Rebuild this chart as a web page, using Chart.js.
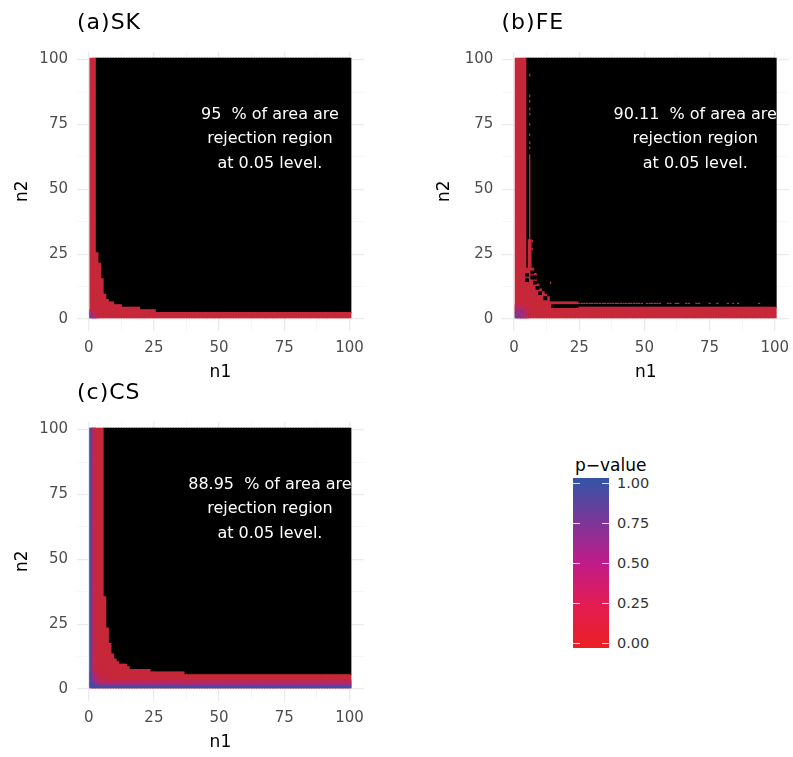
<!DOCTYPE html>
<html>
<head>
<meta charset="utf-8">
<title>Rejection regions by p-value</title>
<script src="https://cdn.jsdelivr.net/npm/chart.js@4.4.1/dist/chart.umd.min.js"></script>
<style>
  html, body { margin:0; padding:0; background:#ffffff; overflow:hidden; }
  #page { position:relative; width:793px; height:757px; overflow:hidden; background:#fff; font-family:'DejaVu Sans', sans-serif; }
  canvas { position:absolute; }
  .ptitle { position:absolute; font-size:22px; line-height:22px; letter-spacing:1px; color:#000; white-space:nowrap; }
  #legTitle { position:absolute; left:575px; top:455px; font-size:17px; line-height:20px; color:#000; white-space:nowrap; }
  #legBar { position:absolute; left:573px; top:478.3px; width:36px; height:170px; }
  .legTick { position:absolute; width:7px; height:1px; background:rgba(255,255,255,0.85); }
  .legLab { position:absolute; left:617px; font-size:14.5px; line-height:16px; color:#333; white-space:nowrap; }
</style>
</head>
<body>
<div id="page">
  <canvas id="cA" width="380" height="400" style="left:0px;top:0px"></canvas>
  <canvas id="cB" width="390" height="400" style="left:420px;top:0px"></canvas>
  <canvas id="cC" width="380" height="387" style="left:0px;top:370px"></canvas>
  <div id="tA" class="ptitle" style="left:77px;top:11.4px"></div>
  <div id="tB" class="ptitle" style="left:501.5px;top:11.4px"></div>
  <div id="tC" class="ptitle" style="left:77px;top:381.4px"></div>
  <div id="legTitle"></div>
  <div id="legBar"></div>
</div>
<script>
// ---------------- data ----------------
const n1Values = [];            // categories n1 = 1..100
for (let v = 1; v <= 100; v++) n1Values.push(v);
const n2Min = 1, n2Max = 100;
const majorTicks = [0, 25, 50, 75, 100];
const minorTicks = [12.5, 37.5, 62.5, 87.5];

const panelTitles = ["(a)SK", "(b)FE", "(c)CS"];
const annotationSK = ["95  % of area are", "rejection region", "at 0.05 level."];
const annotationFE = ["90.11  % of area are", "rejection region", "at 0.05 level."];
const annotationCS = ["88.95  % of area are", "rejection region", "at 0.05 level."];
const annotationAt = [69.5, 70];   // (n1, n2) of the text block centre

// number of non-rejected cells counted from n2 = 1 upward, one value per n1
const skRedTop = [
  100,100,25,21,15,9,7,6,6,5,
  5,5,4,4,4,4,4,4,4,3,
  3,3,3,3,3,2,2,2,2,2,
  2,2,2,2,2,2,2,2,2,2,
  2,2,2,2,2,2,2,2,2,2,
  2,2,2,2,2,2,2,2,2,2,
  2,2,2,2,2,2,2,2,2,2,
  2,2,2,2,2,2,2,2,2,2,
  2,2,2,2,2,2,2,2,2,2,
  2,2,2,2,2,2,2,2,2,2
];
const feRedTop = [
  100,100,100,100,19,30,19,17,13,11,
  10,9,8,6,6,6,6,6,6,6,
  6,6,6,6,4,4,4,4,4,4,
  4,4,4,4,4,4,4,4,4,4,
  4,4,4,4,4,4,4,4,4,4,
  4,4,4,4,4,4,4,4,4,4,
  4,4,4,4,4,4,4,4,4,4,
  4,4,4,4,4,4,4,4,4,4,
  4,4,4,4,4,4,4,4,4,4,
  4,4,4,4,4,4,4,4,4,4
];
const csRedTop = [
  100,100,100,100,100,35,23,17,13,11,
  10,9,9,9,8,7,7,7,7,7,
  7,7,7,6,6,6,6,6,6,6,
  6,6,6,6,6,6,5,5,5,5,
  5,5,5,5,5,5,5,5,5,5,
  5,5,5,5,5,5,5,5,5,5,
  5,5,5,5,5,5,5,5,5,5,
  5,5,5,5,5,5,5,5,5,5,
  5,5,5,5,5,5,5,5,5,5,
  5,5,5,5,5,5,5,5,5,5
];

// rejected (black) cells inside the non-rejected area: [n1, n2]
const feHoles = [[5,15],[5,17],[7,16],[7,18],[8,14],[8,16],[9,12],[10,10],[12,8]];
// rejected row runs: [n2, n1from, n1to]
const feHoleRows = [[5,15,24]];
// isolated non-rejected cells in the black area, vertical runs: [n1, n2from, n2to]
const feColSpecks = [[6,31,63],[6,66,66],[6,68,68],[6,71,71],[6,75,75],[6,79,79],[6,81,81],
                     [6,84,84],[6,86,86],[6,94,94],[7,27,27],[7,30,30],[14,14,14]];
// horizontal runs: [n2, n1from, n1to]
const feRowSpecks = [[6,25,49],[6,51,56],[6,59,60],[6,62,63],[6,66,67],[6,70,71],[6,75,75],
                     [6,78,78],[6,82,82],[6,84,84],[6,86,86],[6,94,94]];

// larger p-values near the origin: [n1, n2, p]
const skCorner = [[1,1,0.75],[1,2,0.55],[1,3,0.35],[2,1,0.5],[2,2,0.35],[3,1,0.3]];
const feCorner = [
  [1,1,0.85],[2,1,0.45],[3,1,0.7],[4,1,0.4],[5,1,0.3],
  [1,2,0.45],[2,2,0.8],[3,2,0.4],[4,2,0.6],[5,2,0.25],
  [1,3,0.7],[2,3,0.4],[3,3,0.75],[4,3,0.35],[5,3,0.2],
  [1,4,0.35],[2,4,0.55],[3,4,0.3],[4,4,0.45],[5,4,0.15],
  [1,5,0.3],[2,5,0.25],[3,5,0.2]
];
// CS corner matrix, rows n2 = 1..6, columns n1 = 1..6
const csCornerP = [
  [1.00,1.00,0.98,0.97,0.96,0.95],
  [1.00,0.85,0.75,0.70,0.65,0.62],
  [1.00,0.70,0.55,0.45,0.38,0.33],
  [0.98,0.62,0.45,0.30,0.20,0.15],
  [0.97,0.55,0.35,0.20,0.12,0.10],
  [0.96,0.50,0.30,0.15,0.10,0.08]
];
// CS edge bands: [n1from, n1to, n2from, n2to, p]
const csBands = [[1,1,7,100,0.95],[2,2,7,100,0.3],[7,100,1,1,0.95],[7,100,2,2,0.6],[7,100,3,3,0.3]];

// colour scale
const legendStops = [[0,'#EB1F27'],[0.25,'#E21C55'],[0.5,'#BF1C88'],[0.75,'#7E3598'],[1,'#3A52A4']];
const cellStops   = [[0,'#C6283A'],[0.25,'#C0264F'],[0.5,'#A8297F'],[0.75,'#74379A'],[1,'#3E4FA0']];
const legendBreaks = [0, 0.25, 0.5, 0.75, 1];
const legendLabels = ["0.00", "0.25", "0.50", "0.75", "1.00"];
const legendTitle = "p\u2212value";

// ---------------- helpers ----------------
const FONT = "'DejaVu Sans', sans-serif";
function hexToRgb(h){ return [parseInt(h.slice(1,3),16), parseInt(h.slice(3,5),16), parseInt(h.slice(5,7),16)]; }
function colorAt(stops, p){
  p = Math.max(0, Math.min(1, p));
  for (let i = 1; i < stops.length; i++) {
    if (p <= stops[i][0]) {
      const p0 = stops[i-1][0], p1 = stops[i][0];
      const a = hexToRgb(stops[i-1][1]), b = hexToRgb(stops[i][1]);
      const t = (p - p0) / (p1 - p0);
      return 'rgb(' + a.map((v,k) => Math.round(v + (b[k]-v)*t)).join(',') + ')';
    }
  }
  return stops[stops.length-1][1];
}
const cell = (n1, n2a, n2b, p) => ({x: n1, y: [n2a - 0.5, n2b + 0.5], p: p});

function buildDatasets(spec){
  const base = [], black = [];
  spec.redTop.forEach((t, i) => {
    const n1 = n1Values[i];
    base.push(cell(n1, n2Min, Math.min(t, n2Max)));
    if (t < n2Max) black.push(cell(n1, t + 1, n2Max));
  });
  const holes = (spec.holes || []).map(([a,b]) => cell(a, b, b));
  (spec.holeRows || []).forEach(([n2,a,b]) => { for (let n1 = a; n1 <= b; n1++) holes.push(cell(n1, n2, n2)); });
  const colSpecks = (spec.colSpecks || []).map(([n1,a,b]) => cell(n1, a, b));
  const rowSpecks = [];
  (spec.rowSpecks || []).forEach(([n2,a,b]) => { for (let n1 = a; n1 <= b; n1++) rowSpecks.push(cell(n1, n2, n2)); });
  const shade = (spec.shade || []).slice();

  const common = {grouped:false, barPercentage:1, categoryPercentage:1, borderWidth:0, inflateAmount:0.6};
  return [
    Object.assign({}, common, {label:'p', data: shade, backgroundColor: c => colorAt(cellStops, c.raw ? c.raw.p : 0)}),
    Object.assign({}, common, {label:'row specks', data: rowSpecks, backgroundColor: colorAt(cellStops, 0), inflateAmount:0,
        borderColor:'#000', borderWidth:{top:0.7, bottom:0.7, left:0, right:0}, borderSkipped:false}),
    Object.assign({}, common, {label:'col specks', data: colSpecks, backgroundColor: colorAt(cellStops, 0), barPercentage:0.5, inflateAmount:0}),
    Object.assign({}, common, {label:'holes', data: holes, backgroundColor:'#000'}),
    Object.assign({}, common, {label:'not rejected', data: base, backgroundColor: colorAt(cellStops, 0)}),
    Object.assign({}, common, {label:'rejected', data: black, backgroundColor:'#000'})
  ];
}

const annotatePlugin = {
  id: 'annotate',
  afterDatasetsDraw(chart, args, opts) {
    if (!opts || !opts.lines) return;
    const ctx = chart.ctx, xs = chart.scales.x, ys = chart.scales.y;
    const cx = xs.getPixelForValue(opts.ax), cy = ys.getPixelForValue(opts.ay);
    const lines = opts.lines, n = lines.length;
    ctx.save();
    ctx.font = "16px 'DejaVu Sans'";
    ctx.fillStyle = '#ffffff';
    ctx.textAlign = 'center';
    ctx.textBaseline = 'alphabetic';
    for (let i = 0; i < n; i++) ctx.fillText(lines[i], cx, cy + (i - (n-1)/2) * 24.5 + 5.8);
    ctx.restore();
  }
};

const setTicks = s => { s.ticks = majorTicks.concat(minorTicks).sort((a,b)=>a-b).map(v => ({value: v})); };
const tickLabel = v => majorTicks.includes(v) ? String(v) : '';
const gridColor = c => (c.tick && majorTicks.includes(c.tick.value)) ? '#EBEBEB' : '#F4F4F4';
const gridWidth = c => (c.tick && majorTicks.includes(c.tick.value)) ? 1.3 : 0.7;

function makeChart(id, spec, lay, lines){
  new Chart(document.getElementById(id), {
    type: 'bar',
    data: { datasets: buildDatasets(spec) },
    options: {
      responsive: false, animation: false, devicePixelRatio: 1,
      layout: { padding: {left: lay.pl, right: lay.pr, top: lay.pt, bottom: lay.pb} },
      plugins: {
        legend: {display:false}, tooltip: {enabled:false}, title: {display:false},
        annotate: { lines: lines, ax: annotationAt[0], ay: annotationAt[1] }
      },
      scales: {
        x: {
          type: 'linear', min: -4.5, max: 105.5, offset: false,
          grid: { offset:false, drawTicks:false, color: gridColor, lineWidth: gridWidth },
          border: { display:false },
          ticks: { padding: 8, color:'#4D4D4D', font:{family:FONT, size:15}, autoSkip:false, maxRotation:0, callback: tickLabel },
          afterBuildTicks: setTicks,
          afterFit: s => { s.height = lay.xh; },
          title: { display:true, text:'n1', color:'#000', font:{family:FONT, size:17}, padding:0 }
        },
        y: {
          type: 'linear', min: -4.5, max: 103,
          grid: { drawTicks:false, color: gridColor, lineWidth: gridWidth },
          border: { display:false },
          ticks: { padding: 9, color:'#4D4D4D', font:{family:FONT, size:15}, autoSkip:false, callback: tickLabel },
          afterBuildTicks: setTicks,
          afterFit: s => { s.width = lay.yw; },
          title: { display:true, text:'n2', color:'#000', font:{family:FONT, size:17}, padding:0 }
        }
      }
    },
    plugins: [annotatePlugin]
  });
}

// panel specs
const skShade = skCorner.map(([a,b,p]) => cell(a, b, b, p));
const feShade = feCorner.map(([a,b,p]) => cell(a, b, b, p));
const csShade = [];
csBands.forEach(([a,b,c,d,p]) => { for (let n1 = a; n1 <= b; n1++) csShade.push(cell(n1, c, d, p)); });
csCornerP.forEach((row, r) => row.forEach((p, k) => csShade.push(cell(k + 1, r + 1, r + 1, p))));

makeChart('cA', {redTop: skRedTop, shade: skShade},
  {pl:12.3, pr:16.2, pt:51.8, pb:16.8, yw:64.7, xh:52.5}, annotationSK);
makeChart('cB', {redTop: feRedTop, shade: feShade, holes: feHoles, holeRows: feHoleRows,
                 colSpecks: feColSpecks, rowSpecks: feRowSpecks},
  {pl:14.8, pr:20.9, pt:51.8, pb:16.8, yw:67.5, xh:52.5}, annotationFE);
makeChart('cC', {redTop: csRedTop, shade: csShade},
  {pl:12.3, pr:16.2, pt:51.8, pb:3.8, yw:64.7, xh:52.5}, annotationCS);

// titles
document.getElementById('tA').textContent = panelTitles[0];
document.getElementById('tB').textContent = panelTitles[1];
document.getElementById('tC').textContent = panelTitles[2];

// colour bar legend
(function(){
  const page = document.getElementById('page');
  document.getElementById('legTitle').textContent = legendTitle;
  const barTop = 478.3, barH = 170, v0 = 643.3, span = 160;       // 0 -> v0, 1 -> v0 - span
  const ext = (barH - span) / 2 / span;
  const grad = legendStops.map(([v,c]) => c + ' ' + ((v + ext) / (1 + 2*ext) * 100).toFixed(2) + '%').join(', ');
  document.getElementById('legBar').style.background = 'linear-gradient(to top, ' + grad + ')';
  legendBreaks.forEach((v, i) => {
    const y = v0 - v * span;
    [573, 602].forEach(x => {
      const t = document.createElement('div'); t.className = 'legTick';
      t.style.left = x + 'px'; t.style.top = (y - 0.5) + 'px'; page.appendChild(t);
    });
    const l = document.createElement('div'); l.className = 'legLab';
    l.style.top = (y - 8) + 'px'; l.textContent = legendLabels[i]; page.appendChild(l);
  });
})();
</script>
</body>
</html>
